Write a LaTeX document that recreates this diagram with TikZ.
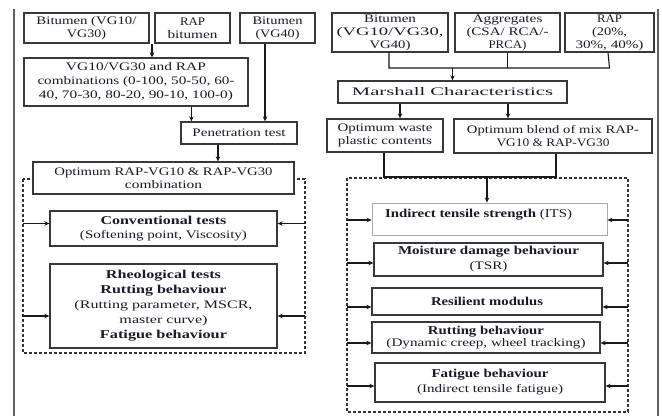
\documentclass[tikz,border=0pt]{standalone}
\usepackage{fontspec}
\usepackage{graphicx}
\setmainfont{Liberation Serif}
\usetikzlibrary{arrows.meta,calc}
\definecolor{edge}{HTML}{383838}
\definecolor{txt}{HTML}{1A1A2A}
\newcommand{\W}[2]{\resizebox{#1pt}{\height}{#2}}
\newcommand{\fs}[1]{\fontsize{11.5}{#1}\selectfont}
\tikzset{
  box/.style={draw=edge, line width=1.3pt, align=center, inner sep=1pt, text=txt, font=\fontsize{11.5}{13}\selectfont},
  lightbox/.style={box, draw=gray!65, line width=0.9pt},
  arr/.style={draw=black!90, line width=1.1pt, -{Stealth[length=5pt,width=4.5pt]}},
  ln/.style={draw=black!90, line width=1.1pt},
  dbox/.style={draw=black!80, line width=1.3pt, dash pattern=on 3pt off 2pt},
  frame/.style={draw=gray!75!black, line width=1.8pt}
}
\begin{document}
\begin{tikzpicture}[x=1pt,y=-1pt]
\useasboundingbox (0,0) rectangle (662,416);
\fill[white] (0,0) rectangle (662,416);
% frame
\draw[frame] (14,9) -- (14,416);
\draw[frame] (658,9) -- (658,416);

% ---------- left column ----------
\node[box, minimum width=125pt, minimum height=30pt] (b1) at (86.5,28) {\W{100}{Bitumen (VG10/}\\\W{39}{VG30)}};
\node[box, minimum width=75pt, minimum height=30pt] (rap1) at (192.5,28) {\W{25}{RAP}\\\W{50}{bitumen}};
\node[box, minimum width=75pt, minimum height=30pt] (vg40) at (277.5,28) {\W{50}{Bitumen}\\\W{44}{(VG40)}};
\node[box, minimum width=224pt, minimum height=48pt, font=\fs{14}] (comb) at (136,82) {\W{140}{VG10/VG30 and RAP}\\\W{197}{combinations (0-100, 50-50, 60-}\\\W{194}{40, 70-30, 80-20, 90-10, 100-0)}};
\node[box, minimum width=116pt, minimum height=22pt] (pen) at (239,133) {\W{93}{Penetration test}};

\coordinate (j1) at ($(b1.south east)!.5!(rap1.south west)$);
\draw[arr] (j1) -- (j1 |- comb.north);
\coordinate (p1) at ([xshift=11pt]pen.north west);
\draw[arr] (p1 |- comb.south) -- (p1);
\coordinate (p2) at ([xshift=-12.5pt]vg40.south);
\draw[arr] (p2) -- (p2 |- pen.north);

% dashed group left
\coordinate (dL) at (23,0);
\coordinate (dR) at (305,0);
\draw[dbox] (23,179) rectangle (305,353);
\node[box, fill=white, minimum width=261pt, minimum height=32pt] (opt) at (163.5,178) {\W{218}{Optimum RAP-VG10 \& RAP-VG30}\\\W{77}{combination}};
\coordinate (p3) at ([xshift=-21pt]pen.south);
\draw[arr] (p3) -- (p3 |- opt.north);

\node[box, minimum width=227pt, minimum height=35pt, font=\fs{14}] (conv) at (163.5,228.5) {\W{126}{\fontsize{12}{14}\selectfont\bfseries Conventional tests}\\\W{167}{(Softening point, Viscosity)}};
\node[box, minimum width=227pt, minimum height=84pt, font=\fs{15}] (rheo) at (163.5,306) {\W{115}{\fontsize{12}{15}\selectfont\bfseries Rheological tests}\\\W{126}{\fontsize{12}{15}\selectfont\bfseries Rutting behaviour}\\\W{178}{(Rutting parameter, MSCR,}\\\W{88}{master curve)}\\\W{127}{\fontsize{12}{15}\selectfont\bfseries Fatigue behaviour}};

\coordinate (c1) at ([yshift=5pt]conv.west);
\coordinate (c2) at ([yshift=5pt]conv.east);
\draw[arr] (dL |- c1) -- (c1);
\draw[arr] (dR |- c2) -- (c2);
\coordinate (r1) at ([yshift=-10pt]rheo.west);
\coordinate (r2) at ([yshift=-10pt]rheo.east);
\draw[arr] (dL |- r1) -- (r1);
\draw[arr] (dR |- r2) -- (r2);

% ---------- right column ----------
\node[box, minimum width=116pt, minimum height=39pt] (rb1) at (390,32.5) {\W{52}{Bitumen}\\\W{107}{(VG10/VG30,}\\\W{41}{VG40)}};
\node[box, minimum width=105pt, minimum height=39pt] (agg) at (507.5,32.5) {\W{70}{Aggregates}\\\W{82}{(CSA/ RCA/-}\\\W{38}{PRCA)}};
\node[box, minimum width=89pt, minimum height=39pt] (rap2) at (609.5,32.5) {\W{25}{RAP}\\\W{35}{(20\%,}\\\W{68}{30\%, 40\%)}};
\node[box, minimum width=229pt, minimum height=22pt] (mar) at (452.5,92) {\W{201}{Marshall Characteristics}};

\coordinate (h1) at (0,68);
\draw[ln] ([xshift=-1pt]rb1.south) |- (h1 -| rap2.south) -- ([xshift=-1.5pt]rap2.south);
\draw[ln] (agg.south) -- (agg.south |- h1);
\draw[arr] (mar.north |- h1) -- (mar.north);

\node[box, minimum width=116pt, minimum height=33pt, font=\fs{12.5}] (waste) at (385,135.5) {\W{95}{Optimum waste}\\\W{94}{plastic contents}};
\node[box, minimum width=198pt, minimum height=34pt, font=\fs{12.5}] (blend) at (553,136) {\W{172}{Optimum blend of mix RAP-}\\\W{113}{VG10 \& RAP-VG30}};
\coordinate (m1) at (400,0);
\coordinate (m2) at (508,0);
\draw[arr] (m1 |- mar.south) -- (m1 |- waste.north);
\draw[arr] (m2 |- mar.south) -- (m2 |- blend.north);

% dashed group right
\coordinate (eL) at (347,0);
\coordinate (eR) at (628,0);
\draw[dbox] (347,178) rectangle (628,412);

\node[lightbox, minimum width=235pt, minimum height=32pt, text depth=12pt] (its) at (489.5,219) {\W{187}{\fontsize{12}{14}\selectfont\textbf{Indirect tensile strength} (ITS)}\hspace*{22pt}};
\node[box, minimum width=229pt, minimum height=33pt, font=\fs{15}] (moist) at (488.5,259.5) {\W{181}{\fontsize{12}{15}\selectfont\bfseries Moisture damage behaviour}\\\W{38}{(TSR)}};
\node[box, minimum width=230pt, minimum height=27pt] (resil) at (487,301.5) {\W{112}{\fontsize{12}{14}\selectfont\bfseries Resilient modulus}};
\node[box, minimum width=228pt, minimum height=31pt, font=\fs{12.5}] (rut) at (486,337.5) {\W{116}{\fontsize{12}{12.5}\selectfont\bfseries Rutting behaviour}\\\W{199}{(Dynamic creep, wheel tracking)}};
\node[box, minimum width=230pt, minimum height=39pt, font=\fs{15}] (fat) at (490,382.5) {\W{117}{\fontsize{12}{15}\selectfont\bfseries Fatigue behaviour}\\\W{146}{(Indirect tensile fatigue)}};

\coordinate (h2) at (0,177);
\coordinate (w1) at ([xshift=-1pt]waste.south);
\coordinate (w2) at ([xshift=3pt]blend.south);
\draw[ln] (w1) |- (w2 |- h2) -- (w2);
\coordinate (a1) at (487,0);
\draw[arr] (a1 |- h2) -- (a1 |- its.north);

\foreach \n/\s in {its/-1,moist/-3.5,resil/-5.5,rut/-5.5,fat/-3.5}{
  \coordinate (L\n) at ([yshift=\s pt]\n.west);
  \coordinate (R\n) at ([yshift=\s pt]\n.east);
  \draw[arr] (eL |- L\n) -- (L\n);
  \draw[arr] (eR |- R\n) -- (R\n);
}
\end{tikzpicture}
\end{document}
